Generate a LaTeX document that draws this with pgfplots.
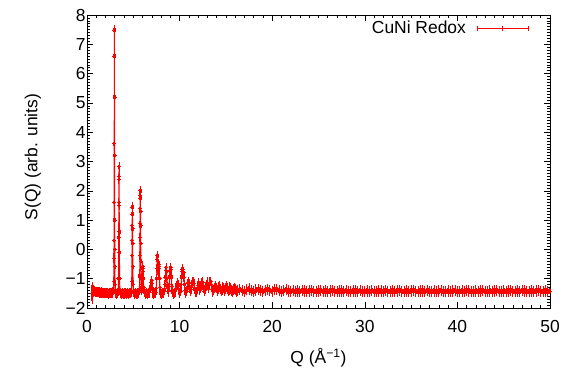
\documentclass[border=0pt]{standalone}
\usepackage{pgfplots}
\pgfplotsset{compat=1.18}
\usepackage{fontspec}
\setmainfont{Liberation Sans}
\begin{document}
\begin{tikzpicture}
\begin{axis}[
  width=463bp, height=293bp, scale only axis,
  xmin=0, xmax=50, ymin=-2, ymax=8,
  xtick={0,10,...,50}, minor x tick num=9,
  ytick={-2,-1,0,1,2,3,4,5,6,7,8},
  yticklabels={−2,−1,0,1,2,3,4,5,6,7,8},
  minor y tick num=9,
  tick align=inside,
  major tick length=6bp, minor tick length=3bp,
  tick style={black, line width=0.6bp},
  axis line style={black, line width=0.8bp},
  font=\fontsize{17.5}{20}\selectfont,
  /pgf/number format/assume math mode=true,
  xticklabel style={yshift=-9bp},
  yticklabel style={xshift=2bp},
  xlabel={Q (Å\textsuperscript{−1})},
  ylabel={S(Q) (arb. units)},
  xlabel style={at={(axis description cs:0.5,-0.171)}, anchor=center},
  ylabel style={at={(axis description cs:-0.117,0.515)}, anchor=center},
  legend plot pos=right,
  legend style={draw=none, fill=none, at={(axis description cs:1,1)}, anchor=north east, xshift=-18bp, yshift=-2bp, font=\fontsize{17.5}{20}\selectfont,
    /tikz/every odd column/.append style={column sep=9bp}},
  legend cell align=right,
]
\addplot[red, line width=1bp, mark=+, mark size=2bp,
  legend image code/.code={
    \draw[red, line width=0.9bp] (0bp,0bp) -- (51bp,0bp);
    \draw[red, line width=0.9bp] (0bp,-2.5bp) -- (0bp,2.5bp) (25.5bp,-2.5bp) -- (25.5bp,2.5bp) (51bp,-2.5bp) -- (51bp,2.5bp);
  },
  error bars/.cd, y dir=both, y explicit,
  error bar style={red, line width=2.4bp},
  error mark options={red, mark size=3bp, line width=1bp}]
  table[x=x, y=y, y error=e] {
x y e
0.55 -1.49 0.27
0.62 -1.50 0.12
0.70 -1.41 0.08
0.80 -1.43 0.07
0.90 -1.45 0.07
1.00 -1.44 0.07
1.10 -1.46 0.07
1.20 -1.45 0.07
1.30 -1.47 0.07
1.40 -1.46 0.07
1.50 -1.48 0.07
1.60 -1.47 0.07
1.70 -1.49 0.07
1.80 -1.48 0.07
1.90 -1.50 0.07
2.00 -1.49 0.07
2.10 -1.50 0.07
2.20 -1.49 0.07
2.30 -1.51 0.07
2.40 -1.50 0.07
2.50 -1.50 0.07
2.60 -1.49 0.07
2.70 -1.50 0.07
2.80 -1.47 0.07
2.86 -1.40 0.06
2.89 -1.10 0.06
2.91 -0.30 0.06
2.92 0.30 0.06
2.93 1.60 0.06
2.94 3.60 0.06
2.95 6.60 0.07
2.96 7.48 0.07
2.97 5.20 0.06
2.98 3.20 0.06
2.99 1.00 0.06
3.00 0.00 0.06
3.01 -0.60 0.06
3.03 -1.20 0.06
3.06 -1.45 0.06
3.10 -1.50 0.07
3.20 -1.51 0.07
3.30 -1.49 0.07
3.37 -1.42 0.06
3.40 -1.00 0.06
3.42 0.40 0.06
3.44 1.60 0.06
3.45 2.40 0.06
3.46 2.82 0.06
3.47 2.50 0.06
3.48 1.50 0.06
3.49 0.60 0.06
3.50 -0.10 0.06
3.52 -1.00 0.06
3.55 -1.40 0.06
3.60 -1.50 0.07
3.70 -1.51 0.07
3.80 -1.50 0.07
3.90 -1.52 0.07
4.00 -1.50 0.07
4.10 -1.51 0.07
4.20 -1.50 0.07
4.30 -1.52 0.07
4.40 -1.50 0.07
4.50 -1.51 0.07
4.60 -1.50 0.07
4.70 -1.49 0.07
4.80 -1.45 0.06
4.84 -1.10 0.06
4.86 -0.20 0.06
4.87 0.30 0.06
4.88 0.80 0.06
4.89 1.20 0.06
4.90 1.44 0.06
4.91 1.20 0.06
4.92 0.70 0.06
4.93 0.20 0.06
4.95 -0.60 0.06
4.98 -1.20 0.06
5.02 -1.45 0.06
5.10 -1.51 0.07
5.20 -1.50 0.07
5.30 -1.52 0.07
5.40 -1.50 0.07
5.50 -1.51 0.07
5.60 -1.48 0.07
5.66 -1.40 0.06
5.69 -0.90 0.06
5.71 -0.20 0.06
5.72 0.40 0.06
5.73 0.90 0.06
5.74 1.40 0.06
5.75 1.85 0.06
5.76 2.00 0.06
5.77 1.75 0.06
5.78 1.30 0.06
5.79 0.80 0.06
5.80 0.20 0.06
5.82 -0.40 0.06
5.84 -1.00 0.06
5.87 -1.30 0.06
5.91 -1.40 0.06
5.95 -1.20 0.06
5.98 -0.90 0.06
6.01 -0.65 0.06
6.03 -0.60 0.06
6.05 -0.75 0.06
6.08 -1.00 0.06
6.12 -1.30 0.06
6.18 -1.46 0.07
6.30 -1.51 0.07
6.40 -1.49 0.07
6.50 -1.51 0.07
6.60 -1.50 0.07
6.70 -1.48 0.07
6.80 -1.40 0.07
6.88 -1.25 0.06
6.93 -1.12 0.06
6.97 -1.06 0.06
7.01 -1.15 0.06
7.06 -1.35 0.06
7.12 -1.48 0.07
7.20 -1.51 0.07
7.30 -1.50 0.07
7.40 -1.48 0.07
7.47 -1.35 0.06
7.52 -1.00 0.06
7.55 -0.65 0.06
7.58 -0.35 0.06
7.61 -0.22 0.06
7.64 -0.40 0.06
7.67 -0.70 0.06
7.70 -0.80 0.06
7.74 -0.60 0.06
7.77 -0.50 0.06
7.80 -0.65 0.06
7.84 -1.00 0.06
7.88 -1.30 0.06
7.95 -1.47 0.07
8.05 -1.51 0.07
8.15 -1.50 0.07
8.25 -1.48 0.07
8.35 -1.40 0.07
8.42 -1.20 0.06
8.47 -0.95 0.06
8.51 -0.72 0.06
8.55 -0.63 0.06
8.59 -0.75 0.06
8.63 -1.00 0.06
8.68 -1.28 0.06
8.75 -1.45 0.07
8.82 -1.40 0.07
8.88 -1.20 0.06
8.93 -0.95 0.06
8.98 -0.72 0.06
9.03 -0.62 0.06
9.07 -0.70 0.06
9.11 -0.95 0.06
9.16 -1.25 0.06
9.23 -1.45 0.07
9.32 -1.52 0.07
9.42 -1.50 0.07
9.52 -1.45 0.07
9.60 -1.35 0.07
9.68 -1.25 0.06
9.75 -1.18 0.06
9.80 -1.15 0.06
9.86 -1.22 0.06
9.93 -1.38 0.07
10.02 -1.48 0.07
10.10 -1.42 0.07
10.17 -1.20 0.06
10.22 -0.95 0.06
10.27 -0.75 0.06
10.31 -0.67 0.06
10.35 -0.70 0.06
10.39 -0.85 0.06
10.43 -0.80 0.06
10.47 -0.95 0.06
10.52 -1.20 0.06
10.58 -1.40 0.07
10.66 -1.48 0.07
10.75 -1.42 0.07
10.83 -1.30 0.06
10.90 -1.18 0.06
10.96 -1.12 0.06
11.02 -1.18 0.06
11.09 -1.32 0.07
11.17 -1.42 0.07
11.25 -1.36 0.07
11.32 -1.22 0.06
11.38 -1.12 0.06
11.44 -1.15 0.06
11.50 -1.10 0.06
11.56 -1.18 0.06
11.63 -1.35 0.07
11.72 -1.46 0.07
11.82 -1.44 0.07
11.92 -1.35 0.07
12.00 -1.22 0.06
12.06 -1.15 0.06
12.12 -1.28 0.07
12.20 -1.40 0.07
12.30 -1.30 0.07
12.38 -1.14 0.06
12.44 -1.10 0.06
12.50 -1.14 0.06
12.58 -1.32 0.07
12.68 -1.42 0.07
12.78 -1.36 0.07
12.88 -1.22 0.06
12.96 -1.12 0.06
13.04 -1.20 0.06
13.12 -1.30 0.07
13.20 -1.24 0.06
13.28 -1.12 0.06
13.35 -1.09 0.06
13.42 -1.20 0.06
13.50 -1.38 0.07
13.60 -1.44 0.07
13.70 -1.40 0.07
13.80 -1.33 0.07
13.88 -1.26 0.07
13.96 -1.32 0.07
14.05 -1.42 0.07
14.15 -1.36 0.07
14.22 -1.28 0.07
14.30 -1.26 0.07
14.38 -1.36 0.07
14.48 -1.43 0.07
14.58 -1.37 0.07
14.68 -1.28 0.07
14.76 -1.31 0.07
14.85 -1.40 0.08
14.95 -1.34 0.08
15.05 -1.27 0.08
15.14 -1.33 0.08
15.24 -1.42 0.08
15.34 -1.38 0.08
15.44 -1.30 0.08
15.54 -1.33 0.08
15.64 -1.41 0.08
15.74 -1.44 0.08
15.84 -1.38 0.08
15.94 -1.33 0.08
16.04 -1.38 0.08
16.14 -1.44 0.08
16.25 -1.40 0.09
16.50 -1.36 0.09
16.75 -1.41 0.09
17.00 -1.44 0.09
17.25 -1.38 0.09
17.50 -1.35 0.09
17.75 -1.40 0.09
18.00 -1.43 0.09
18.25 -1.39 0.09
18.50 -1.36 0.09
18.75 -1.41 0.09
19.00 -1.44 0.09
19.25 -1.40 0.09
19.50 -1.37 0.09
19.75 -1.41 0.09
20.00 -1.43 0.09
20.25 -1.38 0.09
20.50 -1.37 0.09
20.75 -1.41 0.09
21.00 -1.44 0.09
21.25 -1.41 0.09
21.50 -1.38 0.09
21.75 -1.42 0.09
22.00 -1.44 0.09
22.25 -1.41 0.09
22.50 -1.43 0.09
22.75 -1.42 0.09
23.00 -1.44 0.09
23.25 -1.41 0.09
23.50 -1.42 0.09
23.75 -1.44 0.09
24.00 -1.42 0.09
24.25 -1.41 0.09
24.50 -1.43 0.09
24.75 -1.44 0.09
25.00 -1.42 0.09
25.25 -1.41 0.09
25.50 -1.43 0.09
25.75 -1.42 0.09
26.00 -1.44 0.09
26.25 -1.42 0.09
26.50 -1.41 0.09
26.75 -1.43 0.09
27.00 -1.44 0.09
27.25 -1.42 0.09
27.50 -1.42 0.09
27.75 -1.43 0.09
28.00 -1.41 0.09
28.25 -1.43 0.09
28.50 -1.44 0.09
28.75 -1.42 0.09
29.00 -1.42 0.09
29.25 -1.43 0.09
29.50 -1.41 0.09
29.75 -1.43 0.09
30.00 -1.44 0.09
30.25 -1.42 0.09
30.50 -1.43 0.09
30.75 -1.41 0.09
31.00 -1.43 0.09
31.25 -1.44 0.09
31.50 -1.42 0.09
31.75 -1.42 0.09
32.00 -1.43 0.09
32.25 -1.41 0.09
32.50 -1.43 0.09
32.75 -1.44 0.09
33.00 -1.42 0.09
33.25 -1.43 0.09
33.50 -1.42 0.09
33.75 -1.41 0.09
34.00 -1.43 0.09
34.25 -1.44 0.09
34.50 -1.42 0.09
34.75 -1.43 0.09
35.00 -1.42 0.09
35.25 -1.41 0.09
35.50 -1.43 0.09
35.75 -1.44 0.09
36.00 -1.42 0.09
36.25 -1.42 0.09
36.50 -1.43 0.09
36.75 -1.41 0.09
37.00 -1.43 0.09
37.25 -1.44 0.09
37.50 -1.42 0.09
37.75 -1.43 0.09
38.00 -1.42 0.09
38.25 -1.41 0.09
38.50 -1.43 0.09
38.75 -1.44 0.09
39.00 -1.42 0.09
39.25 -1.43 0.09
39.50 -1.42 0.09
39.75 -1.41 0.09
40.00 -1.43 0.09
40.25 -1.44 0.09
40.50 -1.42 0.09
40.75 -1.43 0.09
41.00 -1.41 0.09
41.25 -1.42 0.09
41.50 -1.43 0.09
41.75 -1.44 0.09
42.00 -1.42 0.09
42.25 -1.43 0.09
42.50 -1.42 0.09
42.75 -1.41 0.09
43.00 -1.43 0.09
43.25 -1.44 0.09
43.50 -1.42 0.09
43.75 -1.43 0.09
44.00 -1.42 0.09
44.25 -1.41 0.09
44.50 -1.43 0.09
44.75 -1.44 0.09
45.00 -1.42 0.09
45.25 -1.43 0.09
45.50 -1.42 0.09
45.75 -1.41 0.09
46.00 -1.43 0.09
46.25 -1.44 0.09
46.50 -1.42 0.09
46.75 -1.43 0.09
47.00 -1.41 0.09
47.25 -1.42 0.09
47.50 -1.43 0.09
47.75 -1.44 0.09
48.00 -1.42 0.09
48.25 -1.43 0.09
48.50 -1.42 0.09
48.75 -1.41 0.09
49.00 -1.43 0.09
49.25 -1.44 0.09
49.50 -1.42 0.09
49.75 -1.43 0.09
50.00 -1.42 0.09
};
\addlegendentry{CuNi Redox}
\end{axis}
\path (current axis.south west) ++(-87bp,-64bp) coordinate (BL);
\path (current axis.north east) ++(14bp,15bp) coordinate (TR);
\useasboundingbox (BL) rectangle (TR);
\end{tikzpicture}
\end{document}
